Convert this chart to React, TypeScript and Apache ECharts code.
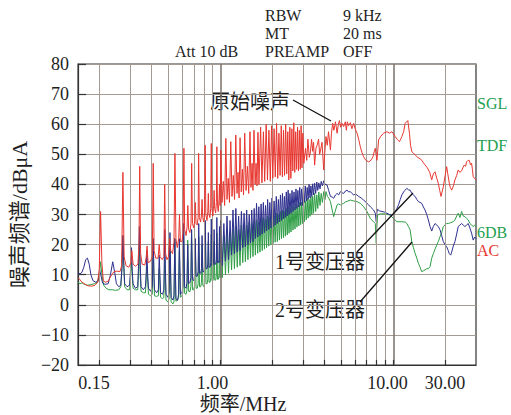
import React, { useEffect, useRef } from "react";
import * as echarts from "echarts";

// vertical grid positions (MHz)
const gridFreqs = [0.2, 0.3, 0.4, 0.5, 0.6, 0.7, 0.8, 0.9, 2, 3, 4, 5, 6, 7, 8, 9, 20];
const decadeFreqs = [1, 10];
const xTickLabels = ["0.15", "1.00", "10.00", "30.00"];

// 原始噪声 (red)
const rawNoise: number[][] = [
  [0.15, 9], [0.153, 8.5], [0.158, 7.5], [0.165, 6.8], [0.172, 6.3], [0.18, 6.2], [0.188, 6.5], [0.195, 7.5], [0.199, 12], [0.2025, 31], [0.206, 14], [0.21, 8], [0.216, 7.5], [0.224, 7.8], [0.232, 9.5], [0.242, 11], [0.252, 11.2], [0.262, 11], [0.268, 13], [0.2725, 44], [0.277, 16], [0.284, 13], [0.295, 12.5], [0.303, 14], [0.307, 18], [0.312, 13.5], [0.322, 12.8], [0.333, 13.5], [0.3375, 20], [0.341, 46], [0.345, 17], [0.352, 13.5], [0.365, 13.2], [0.372, 16], [0.376, 19.5], [0.381, 14], [0.394, 14.5], [0.403, 16], [0.408, 47], [0.413, 18], [0.422, 15.5], [0.435, 15.5], [0.442, 20], [0.447, 16], [0.46, 15], [0.47, 16], [0.4755, 40], [0.481, 17], [0.49, 15], [0.5, 16], [0.508, 22], [0.515, 18], [0.528, 17], [0.538, 21], [0.545, 50.3], [0.552, 22], [0.562, 19], [0.573, 22], [0.579, 30], [0.586, 21], [0.598, 21], [0.607, 24], [0.614, 52], [0.62, 25], [0.632, 23], [0.641, 26], [0.647, 33], [0.654, 25], [0.665, 24], [0.675, 27], [0.681, 47], [0.688, 27], [0.7, 25.5], [0.709, 28], [0.715, 34], [0.722, 27], [0.733, 26.5], [0.742, 29], [0.747, 50.3], [0.754, 29], [0.767, 27.5], [0.776, 30], [0.782, 35], [0.789, 29], [0.8, 27.5], [0.809, 31], [0.815, 53], [0.822, 30], [0.835, 28], [0.844, 31], [0.85, 37], [0.857, 30], [0.868, 29], [0.877, 32], [0.884, 53.6], [0.891, 32], [0.903, 29.5], [0.912, 33], [0.918, 38], [0.925, 32], [0.937, 30.5], [0.946, 34], [0.952, 52.5], [0.96, 33], [0.97, 31], [0.98, 35], [0.986, 40], [0.994, 33],
  [1.004, 51.4], [1.02, 34], [1.038, 41], [1.056, 33], [1.073, 55.3], [1.09, 35], [1.108, 42], [1.126, 34], [1.146, 54.2], [1.165, 36], [1.185, 43], [1.205, 35], [1.225, 56.4], [1.245, 37], [1.262, 44], [1.28, 35.5], [1.297, 55.5], [1.318, 37.5], [1.338, 45], [1.358, 36.5], [1.38, 57], [1.405, 38], [1.43, 46], [1.455, 37], [1.48, 57.5], [1.5, 39], [1.522, 47], [1.54, 38], [1.561, 58], [1.585, 40], [1.605, 47], [1.625, 39.5], [1.646, 57.3], [1.668, 40], [1.705, 59], [1.735, 40.5], [1.77, 57.5], [1.8, 41], [1.836, 60], [1.868, 41.5], [1.904, 58], [1.94, 41], [1.972, 59.5], [2.005, 42], [2.04, 58.5], [2.072, 42.5], [2.108, 60.3], [2.142, 42], [2.176, 57], [2.21, 43], [2.244, 59.5], [2.278, 42.5], [2.312, 58], [2.346, 43], [2.38, 60], [2.414, 43.5], [2.448, 57.5], [2.482, 41.5], [2.516, 59], [2.55, 42], [2.584, 58.5], [2.618, 44.5], [2.652, 60.5], [2.686, 44], [2.72, 57.5], [2.754, 45], [2.788, 59], [2.822, 44.5], [2.856, 58], [2.89, 45], [2.924, 59.5], [2.958, 45.5], [2.992, 57],
  [3.03, 47], [3.1, 52], [3.15, 48], [3.2, 55], [3.26, 49], [3.31, 50.8], [3.36, 55], [3.41, 51], [3.45, 54], [3.5, 46.4], [3.56, 52], [3.62, 53], [3.69, 55], [3.74, 50], [3.78, 51], [3.86, 54], [3.95, 44.8], [4.0, 50], [4.07, 55.9], [4.14, 53], [4.21, 57.5], [4.32, 51.4], [4.38, 57], [4.45, 60.3], [4.52, 58], [4.62, 60.8], [4.72, 57], [4.8, 60], [4.87, 61.2], [4.95, 59], [5.04, 60.3], [5.15, 59.2], [5.27, 60.8], [5.34, 58], [5.41, 60.8], [5.5, 59.5], [5.63, 60.5], [5.75, 58.5], [5.885, 60.3], [6.0, 58.5], [6.155, 57], [6.29, 55], [6.43, 52.5], [6.58, 50.5], [6.72, 49.2], [6.88, 48.2], [7.03, 47.8], [7.18, 47.5], [7.34, 47.8], [7.5, 48.5], [7.61, 49.2], [7.75, 51], [7.85, 52], [7.95, 49.5], [8.02, 48], [8.1, 51], [8.2, 54.8], [8.45, 56], [8.76, 57], [9.16, 57.5], [9.5, 57], [9.79, 57.5], [10.0, 56.8], [10.23, 55.9], [10.5, 55], [10.83, 54.2], [11.0, 55], [11.18, 55.9], [11.45, 57.5], [11.68, 60.3], [12.1, 61.2], [12.37, 57], [12.55, 53], [12.76, 50.9], [13.0, 50.5], [13.34, 49.8], [13.8, 49], [14.25, 48.5], [14.6, 48], [14.89, 47.2], [15.2, 46.5], [15.7, 45.5], [16.2, 44], [16.64, 41.5], [17.0, 43.5], [17.39, 44.2], [17.8, 42], [18.16, 40.4], [18.5, 38], [18.83, 36], [19.1, 37.5], [19.41, 39.2], [19.9, 43], [20.3, 45.9], [20.6, 43.5], [21.02, 40.4], [21.3, 39], [21.7, 38.1], [22.2, 39.5], [22.67, 41.5], [23.2, 43], [23.68, 44.8], [24.2, 44], [24.77, 44.5], [25.2, 45.5], [25.64, 46.4], [26.1, 46], [26.47, 47.5], [27.0, 48], [27.4, 48], [27.9, 46.5], [28.29, 47], [28.6, 45], [28.9, 42.6], [29.4, 42], [30, 41.5],
];

// 1号变压器 (blue)
const transformer1: number[][] = [
  [0.15, 10.5], [0.154, 10.3], [0.158, 10.8], [0.162, 12.5], [0.166, 15], [0.17, 15.5], [0.174, 13.5], [0.178, 10], [0.183, 8], [0.19, 7.5], [0.197, 8], [0.2, 11.5], [0.203, 10], [0.208, 7.2], [0.215, 6.8], [0.224, 7], [0.231, 10], [0.238, 14.3], [0.244, 11], [0.25, 7], [0.258, 6], [0.265, 6.5], [0.269, 12], [0.2725, 23], [0.276, 13], [0.279, 7], [0.288, 6], [0.298, 6.5], [0.302, 12], [0.305, 19], [0.309, 11], [0.312, 7], [0.322, 5.5], [0.332, 6], [0.336, 14], [0.3395, 26], [0.343, 14], [0.347, 6], [0.358, 5], [0.368, 6], [0.372, 11], [0.375, 18], [0.379, 10], [0.383, 5.5], [0.394, 4.5], [0.403, 6], [0.408, 22], [0.412, 10], [0.415, 5], [0.427, 4], [0.437, 5], [0.442, 16.5], [0.45, 4], [0.462, 3.5], [0.47, 5], [0.476, 25], [0.48, 12], [0.484, 3.5], [0.496, 2.5], [0.504, 4], [0.51, 24], [0.518, 2.5], [0.53, 1.6], [0.538, 3], [0.544, 22], [0.552, 2], [0.564, 1.5], [0.572, 3.5], [0.578, 22], [0.586, 3.5], [0.598, 4], [0.606, 6], [0.612, 27], [0.62, 6], [0.632, 5.5], [0.64, 7.5], [0.646, 20], [0.654, 7], [0.666, 7.5], [0.674, 9], [0.68, 25], [0.688, 8.5], [0.7, 8], [0.708, 10], [0.714, 22], [0.722, 9.5], [0.734, 9.5], [0.742, 11], [0.748, 27], [0.756, 10.5], [0.768, 10.5], [0.776, 12], [0.782, 23], [0.79, 11], [0.802, 11], [0.81, 13], [0.816, 28], [0.824, 12], [0.836, 12], [0.844, 13.5], [0.85, 24], [0.858, 12.5], [0.87, 12.5], [0.878, 14], [0.884, 28.5], [0.892, 13], [0.904, 13], [0.912, 14.5], [0.918, 25], [0.926, 13.5], [0.938, 13.5], [0.946, 15], [0.952, 29], [0.96, 14], [0.972, 14], [0.98, 15], [0.986, 26], [0.994, 14],
  [1.0, 28], [1.022, 13], [1.045, 27], [1.068, 14.5], [1.09, 29.5], [1.112, 15], [1.135, 28], [1.158, 16.5], [1.18, 31.5], [1.203, 17], [1.226, 32], [1.249, 17.5], [1.272, 29.5], [1.296, 18], [1.32, 31], [1.344, 19], [1.368, 30.4], [1.392, 19.3], [1.416, 31.5], [1.44, 20], [1.465, 30], [1.49, 20.5], [1.515, 31.5], [1.54, 21], [1.565, 32], [1.59, 22], [1.615, 33.7], [1.64, 22.5], [1.665, 32.6], [1.69, 23], [1.716, 33.5], [1.742, 23.5], [1.768, 34], [1.794, 24], [1.82, 33], [1.846, 24.5], [1.872, 35], [1.9, 25], [1.928, 34], [1.956, 25.5], [1.984, 35.5], [2.012, 26], [2.04, 34.5], [2.07, 26.5], [2.1, 36], [2.13, 27], [2.16, 35], [2.19, 27.5], [2.22, 36.5], [2.25, 28], [2.28, 37], [2.31, 28.5], [2.34, 36], [2.37, 29], [2.4, 37.5], [2.43, 29.5], [2.46, 38.1], [2.49, 30], [2.52, 37], [2.555, 30.4], [2.59, 38], [2.625, 31], [2.66, 37.5], [2.695, 31.5], [2.73, 38.5], [2.765, 32], [2.8, 38], [2.835, 32.5], [2.87, 39], [2.905, 33], [2.94, 38.5], [2.975, 33], [3.01, 39], [3.05, 34], [3.09, 39.5], [3.13, 34.5], [3.17, 39], [3.21, 35], [3.25, 40], [3.29, 35.5], [3.33, 39.5], [3.37, 36], [3.41, 40.2], [3.45, 36.5], [3.5, 40.4], [3.55, 37], [3.6, 40.8], [3.65, 38], [3.7, 40.5], [3.76, 38.5], [3.82, 41], [3.88, 39.5], [3.95, 41.2], [4.02, 40], [4.13, 39.8], [4.22, 38], [4.32, 36], [4.42, 35.8], [4.51, 35.4], [4.62, 36.5], [4.72, 37], [4.82, 36.5], [4.93, 37.6], [5.04, 37.2], [5.15, 37], [5.27, 37.8], [5.39, 38.1], [5.5, 37.5], [5.63, 37.6], [5.75, 37], [5.885, 36.5], [6.05, 36.8], [6.29, 36], [6.5, 35.5], [6.72, 34.8], [6.95, 34], [7.18, 33.2], [7.42, 32.3], [7.67, 31.5], [7.85, 30.4], [7.95, 27.6], [8.02, 30.8], [8.09, 31.7], [8.3, 31.2], [8.58, 31], [8.85, 30.8], [9.16, 30.4], [9.5, 30], [9.79, 29.8], [10.0, 30.2], [10.23, 31], [10.46, 32], [10.69, 33.2], [10.95, 35], [11.18, 36.5], [11.45, 37.5], [11.68, 38.1], [11.95, 38.7], [12.2, 38.2], [12.48, 38.1], [12.76, 37], [13.04, 36.5], [13.34, 36], [13.64, 35], [13.93, 34.3], [14.25, 34], [14.57, 33.7], [14.89, 32.5], [15.22, 31.5], [15.57, 30], [15.91, 28.2], [16.27, 26], [16.64, 24.5], [17.0, 26], [17.39, 27], [17.78, 26.5], [18.16, 26], [18.58, 24.9], [19.0, 23], [19.41, 21], [19.86, 20], [20.3, 19.3], [20.74, 18], [21.02, 17], [21.41, 16.5], [21.7, 17.5], [22.16, 19.5], [22.67, 21], [23.19, 23.5], [23.68, 26], [24.22, 26.5], [24.77, 27], [25.3, 26.5], [25.88, 26], [26.47, 26.5], [27.04, 27], [27.66, 25.5], [28.29, 23.8], [28.9, 21.5], [29.5, 22.5], [30, 22],
];

// 2号变压器 (green)
const transformer2: number[][] = [
  [0.15, 7.5], [0.154, 7], [0.158, 7.3], [0.163, 6.8], [0.17, 6.5], [0.178, 6.7], [0.186, 7], [0.194, 7.5], [0.199, 10], [0.2025, 14.3], [0.206, 10], [0.211, 6.5], [0.218, 5.5], [0.226, 5], [0.236, 5], [0.247, 4.8], [0.258, 5], [0.265, 6], [0.269, 12], [0.2725, 23], [0.276, 12], [0.279, 6], [0.288, 5], [0.298, 5], [0.305, 14], [0.312, 5.5], [0.322, 5], [0.332, 5], [0.336, 11], [0.3395, 20], [0.343, 10], [0.347, 4.5], [0.358, 4], [0.368, 4], [0.375, 13], [0.383, 3.5], [0.394, 3], [0.403, 3.5], [0.408, 22], [0.412, 9], [0.415, 3], [0.427, 2.8], [0.437, 3], [0.442, 12], [0.45, 2.5], [0.462, 2], [0.47, 2.5], [0.476, 15], [0.484, 1.5], [0.496, 1], [0.504, 2], [0.51, 19], [0.518, 1], [0.53, 0.3], [0.538, 1], [0.544, 22], [0.552, 1.2], [0.564, 1.5], [0.572, 2.5], [0.578, 18], [0.586, 2.5], [0.598, 3], [0.606, 4], [0.612, 25], [0.62, 3.8], [0.632, 3.5], [0.64, 5], [0.646, 21.5], [0.654, 4.5], [0.666, 4.4], [0.674, 6], [0.68, 24.9], [0.688, 5], [0.7, 5], [0.708, 6.5], [0.714, 20], [0.722, 5.5], [0.734, 5.5], [0.742, 7], [0.748, 22.6], [0.756, 6], [0.768, 6], [0.776, 7.5], [0.782, 20], [0.79, 6.5], [0.802, 6], [0.81, 8], [0.816, 23.8], [0.824, 7], [0.836, 7], [0.844, 8.5], [0.85, 21], [0.858, 7.5], [0.87, 7.5], [0.878, 9], [0.884, 23.5], [0.892, 8], [0.904, 8], [0.912, 9.5], [0.918, 21], [0.926, 8.2], [0.938, 8.2], [0.946, 10], [0.952, 23.8], [0.96, 8.5], [0.972, 8.5], [0.98, 10], [0.986, 22], [0.994, 9],
  [1.0, 24], [1.022, 9], [1.045, 23], [1.068, 10], [1.09, 25], [1.112, 10.5], [1.135, 24], [1.158, 11.6], [1.18, 25], [1.203, 12], [1.226, 26], [1.249, 12.5], [1.272, 25], [1.296, 13], [1.32, 26.5], [1.344, 14], [1.368, 27], [1.392, 14.3], [1.416, 26.5], [1.44, 15], [1.465, 27.5], [1.49, 15.5], [1.515, 27], [1.54, 16], [1.565, 28], [1.59, 16.5], [1.615, 28.2], [1.64, 17.1], [1.665, 27.5], [1.69, 17.5], [1.716, 28.5], [1.742, 18], [1.768, 29], [1.794, 18.5], [1.82, 28.5], [1.846, 19], [1.872, 29.5], [1.9, 19.5], [1.928, 29], [1.956, 20], [1.984, 30], [2.012, 20.3], [2.04, 29.5], [2.07, 20.8], [2.1, 30.5], [2.13, 21], [2.16, 30], [2.19, 21.5], [2.22, 31], [2.25, 22], [2.28, 31.5], [2.31, 22.3], [2.34, 31], [2.37, 22.8], [2.4, 32], [2.43, 23.2], [2.46, 32.6], [2.49, 23.8], [2.52, 32], [2.555, 24.2], [2.59, 33], [2.625, 24.8], [2.66, 32.5], [2.695, 25.2], [2.73, 33.5], [2.765, 25.8], [2.8, 33], [2.835, 26.2], [2.87, 34], [2.905, 26.6], [2.94, 34], [2.975, 27], [3.01, 35], [3.05, 27.6], [3.09, 34.5], [3.13, 28.2], [3.17, 35.5], [3.21, 28.8], [3.25, 35], [3.29, 29.4], [3.33, 36], [3.37, 30], [3.41, 36], [3.45, 30.4], [3.5, 37], [3.55, 31], [3.6, 36.5], [3.65, 32], [3.7, 37.5], [3.76, 33], [3.82, 37], [3.88, 34], [3.95, 37.6], [4.02, 35], [4.07, 37.6], [4.15, 36], [4.22, 35.5], [4.32, 34.3], [4.42, 31.5], [4.51, 29.3], [4.6, 31], [4.72, 33.2], [4.82, 33.5], [4.93, 33.2], [5.04, 33.5], [5.15, 33.7], [5.3, 34.2], [5.45, 34.5], [5.63, 34.8], [5.885, 34.5], [6.155, 34.3], [6.43, 33.7], [6.72, 32.6], [7.03, 31], [7.34, 28.7], [7.67, 27.6], [7.85, 27], [7.95, 20.4], [8.02, 26], [8.09, 29.8], [8.38, 30.2], [8.96, 30.2], [9.57, 29.8], [10.0, 28.7], [10.46, 27.6], [11.18, 27.6], [11.68, 27.5], [11.95, 27], [12.2, 26], [12.48, 24.9], [12.76, 21], [13.04, 19], [13.34, 17.1], [13.64, 15.5], [13.93, 13.8], [14.25, 12.5], [14.57, 11], [14.89, 11.3], [15.22, 11.6], [15.57, 12], [15.91, 12], [16.27, 12.7], [16.64, 15.5], [17.0, 17], [17.39, 18.5], [17.78, 19.8], [18.16, 21], [18.58, 22.6], [19.0, 24], [19.41, 26], [19.86, 26.5], [20.3, 27], [20.74, 27], [21.41, 27.3], [22.16, 27.6], [22.67, 28.2], [23.19, 29.5], [23.68, 30.4], [24.22, 29], [24.77, 31], [25.3, 29.5], [25.88, 29.3], [26.47, 28.7], [27.04, 28.2], [27.66, 27], [28.29, 26.5], [28.9, 26], [29.5, 26.5], [30, 26],
];

const SERIF = "'Liberation Serif', 'Times New Roman', 'Noto Sans CJK SC', serif";
const GRID_COLOR = "#a39a92";
const RED = "#e8362f";
const BLUE = "#2d2f8e";
const GREEN = "#2f9e46";
const LABEL_GREEN = "#22a050";

export default function App() {
  const ref = useRef<HTMLDivElement>(null);
  useEffect(() => {
    if (!ref.current) return;
    const chart = echarts.init(ref.current, undefined, { renderer: "svg" });
    const txt = (text: string, x: number, y: number, extra: any = {}) => ({
      type: "text",
      x,
      y,
      silent: true,
      style: {
        text,
        fill: "#1e1e1e",
        font: `16px ${SERIF}`,
        align: "left",
        verticalAlign: "middle",
        ...extra,
      },
    });
    const line = (x1: number, y1: number, x2: number, y2: number) => ({
      type: "line",
      silent: true,
      z: 50,
      shape: { x1, y1, x2, y2 },
      style: { stroke: "#111", lineWidth: 1.3 },
    });
    chart.setOption({
      animation: false,
      grid: { left: 77, right: 35, top: 64, bottom: 50, show: true, borderColor: "#333", borderWidth: 1.2, backgroundColor: "transparent" },
      xAxis: {
        type: "log",
        logBase: 10,
        min: 0.15,
        max: 30,
        axisLine: { show: true, onZero: false, lineStyle: { color: "#333", width: 1.2 } },
        axisTick: { show: false },
        axisLabel: { show: false },
        splitLine: { show: false },
        minorTick: { show: false },
        minorSplitLine: { show: false },
      },
      yAxis: {
        type: "value",
        min: -20,
        max: 80,
        interval: 10,
        name: "噪声频谱/dBμA",
        nameLocation: "middle",
        nameGap: 44,
        nameTextStyle: { fontFamily: SERIF, fontSize: 22, color: "#1e1e1e" },
        axisLine: { show: true, onZero: false, lineStyle: { color: "#333", width: 1.2 } },
        axisTick: { show: true, inside: true, length: 8, lineStyle: { color: "#333", width: 1.2 } },
        axisLabel: {
          fontFamily: SERIF,
          fontSize: 18,
          color: "#1e1e1e",
          margin: 9,
          formatter: (v: number) => String(v).replace("-", "−"),
        },
        splitLine: { show: true, lineStyle: { color: GRID_COLOR, width: 1 } },
      },
      series: [
        {
          type: "line",
          name: "grid",
          data: [],
          silent: true,
          z: 1,
          markLine: {
            silent: true,
            symbol: ["none", "none"],
            label: { show: false },
            animation: false,
            lineStyle: { color: GRID_COLOR, width: 1, type: "solid" },
            data: [
              ...gridFreqs.map((f) => ({ xAxis: f })),
              ...decadeFreqs.map((f) => ({ xAxis: f, lineStyle: { color: "#7a7069", width: 1.5, type: "solid" } })),
              ...gridFreqs.concat(decadeFreqs).map((f) => [
                { coord: [f, -20], lineStyle: { color: "#333", width: 1.2, type: "solid" } },
                { coord: [f, -18.3] },
              ]),
            ],
          },
        },
        {
          type: "line",
          name: "2号变压器",
          data: transformer2,
          showSymbol: false,
          symbol: "none",
          z: 3,
          lineStyle: { color: GREEN, width: 1 },
        },
        {
          type: "line",
          name: "1号变压器",
          data: transformer1,
          showSymbol: false,
          symbol: "none",
          z: 4,
          lineStyle: { color: BLUE, width: 1 },
        },
        {
          type: "line",
          name: "原始噪声",
          data: rawNoise,
          showSymbol: false,
          symbol: "none",
          z: 5,
          lineStyle: { color: RED, width: 1 },
        },
      ],
      graphic: [
        // x tick labels
        txt(xTickLabels[0], 94, 383, { align: "center", font: `18px ${SERIF}` }),
        txt(xTickLabels[1], 212.5, 383, { align: "center", font: `18px ${SERIF}` }),
        txt(xTickLabels[2], 387.5, 383, { align: "center", font: `18px ${SERIF}` }),
        txt(xTickLabels[3], 445, 383, { align: "center", font: `18px ${SERIF}` }),
        txt("频率/MHz", 243, 404, { align: "center", font: `20px ${SERIF}` }),
        // instrument settings
        txt("RBW", 265, 15),
        txt("MT", 265, 33),
        txt("PREAMP", 265, 51),
        txt("9 kHz", 343, 15),
        txt("20 ms", 343, 33),
        txt("OFF", 343, 51),
        txt("Att 10 dB", 175, 51),
        // right-side markers
        txt("SGL", 477, 103, { fill: LABEL_GREEN }),
        txt("TDF", 477, 145, { fill: LABEL_GREEN }),
        txt("6DB", 477, 232, { fill: LABEL_GREEN }),
        txt("AC", 477, 250, { fill: RED }),
        // annotations
        txt("原始噪声", 210, 102, { font: `20px ${SERIF}` }),
        line(293, 100, 331, 121),
        txt("1号变压器", 275, 262, { font: `20px ${SERIF}` }),
        line(357, 252, 413, 193),
        txt("2号变压器", 275, 310, { font: `20px ${SERIF}` }),
        line(360, 302, 412, 242),
      ],
    });
    return () => chart.dispose();
  }, []);
  return (
    <div
      ref={ref}
      style={{ position: "fixed", left: 0, top: 0, width: 511, height: 415, background: "#fff" }}
    />
  );
}
